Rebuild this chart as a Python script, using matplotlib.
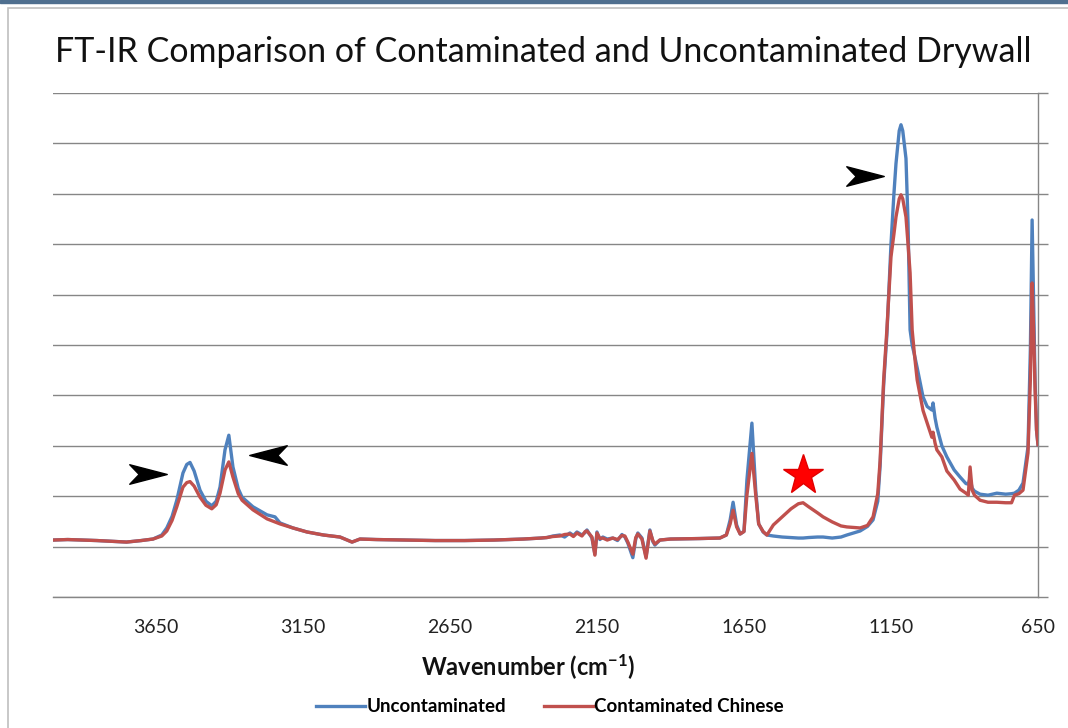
import matplotlib.pyplot as plt
from matplotlib.path import Path
from matplotlib.patches import Rectangle

# FT-IR spectra (wavenumber in cm-1, relative absorbance)
wavenumber = [4000, 3950, 3900, 3850, 3750, 3700, 3660, 3630, 3613, 3595,
              3579, 3558, 3545, 3534, 3520, 3500, 3480, 3460, 3445, 3432,
              3415, 3402, 3388, 3370, 3357, 3320, 3272, 3245, 3228, 3184,
              3136, 3080, 3024, 2983, 2956, 2900, 2800, 2700, 2600, 2500,
              2400, 2340, 2320, 2300, 2276, 2260, 2242, 2230, 2218, 2201,
              2190, 2184, 2167, 2157, 2150, 2140, 2130, 2115, 2096, 2080,
              2065, 2055, 2045, 2028, 2018, 2011, 1997, 1983, 1970, 1960,
              1953, 1936, 1900, 1800, 1732, 1710, 1697, 1687, 1675, 1663,
              1650, 1640, 1623, 1610, 1600, 1585, 1572, 1550, 1520, 1490,
              1465, 1449, 1430, 1400, 1381, 1350, 1320, 1300, 1255, 1230,
              1211, 1195, 1187, 1175, 1164, 1150, 1140, 1133, 1122, 1116,
              1110, 1099, 1092, 1085, 1078, 1070, 1061, 1041, 1027, 1011,
              1007, 1000, 994, 977, 960, 935, 915, 895, 887, 881,
              874, 866, 847, 820, 790, 760, 740, 730, 715, 701,
              684, 676, 670, 665, 660, 655, 650]
uncontaminated = [0.113, 0.114, 0.113, 0.112, 0.109, 0.112, 0.115, 0.123, 0.137, 0.160,
                  0.192, 0.246, 0.263, 0.267, 0.250, 0.212, 0.190, 0.181, 0.190, 0.218,
                  0.292, 0.321, 0.258, 0.215, 0.198, 0.179, 0.163, 0.159, 0.147, 0.137,
                  0.129, 0.123, 0.119, 0.109, 0.115, 0.114, 0.113, 0.112, 0.112, 0.113,
                  0.115, 0.117, 0.118, 0.121, 0.123, 0.119, 0.127, 0.122, 0.129, 0.123,
                  0.128, 0.133, 0.117, 0.085, 0.129, 0.114, 0.119, 0.115, 0.117, 0.112,
                  0.124, 0.119, 0.107, 0.078, 0.115, 0.127, 0.117, 0.080, 0.133, 0.110,
                  0.103, 0.113, 0.115, 0.116, 0.117, 0.123, 0.153, 0.188, 0.143, 0.125,
                  0.130, 0.232, 0.345, 0.212, 0.145, 0.129, 0.123, 0.121, 0.119, 0.118,
                  0.117, 0.117, 0.118, 0.119, 0.119, 0.117, 0.119, 0.123, 0.131, 0.140,
                  0.153, 0.190, 0.260, 0.420, 0.520, 0.700, 0.800, 0.860, 0.925, 0.937,
                  0.925, 0.870, 0.742, 0.530, 0.500, 0.480, 0.455, 0.397, 0.378, 0.371,
                  0.385, 0.355, 0.337, 0.300, 0.278, 0.252, 0.238, 0.225, 0.224, 0.236,
                  0.216, 0.210, 0.204, 0.202, 0.206, 0.204, 0.205, 0.206, 0.212, 0.226,
                  0.298, 0.490, 0.748, 0.589, 0.431, 0.331, 0.302]
contaminated = [0.113, 0.114, 0.113, 0.112, 0.109, 0.112, 0.115, 0.121, 0.131, 0.152,
                0.179, 0.218, 0.227, 0.229, 0.220, 0.198, 0.182, 0.175, 0.183, 0.206,
                0.252, 0.268, 0.238, 0.205, 0.192, 0.173, 0.155, 0.149, 0.145, 0.137,
                0.129, 0.123, 0.119, 0.109, 0.115, 0.114, 0.113, 0.112, 0.112, 0.113,
                0.115, 0.117, 0.118, 0.120, 0.121, 0.124, 0.125, 0.120, 0.127, 0.121,
                0.130, 0.131, 0.119, 0.083, 0.127, 0.116, 0.117, 0.113, 0.117, 0.114,
                0.122, 0.121, 0.109, 0.085, 0.118, 0.125, 0.115, 0.077, 0.131, 0.112,
                0.105, 0.113, 0.115, 0.116, 0.117, 0.123, 0.145, 0.172, 0.139, 0.125,
                0.130, 0.202, 0.285, 0.202, 0.145, 0.130, 0.123, 0.143, 0.159, 0.175,
                0.185, 0.187, 0.179, 0.167, 0.159, 0.149, 0.141, 0.139, 0.137, 0.142,
                0.159, 0.205, 0.270, 0.430, 0.530, 0.675, 0.720, 0.754, 0.790, 0.798,
                0.790, 0.754, 0.700, 0.643, 0.530, 0.480, 0.431, 0.370, 0.345, 0.317,
                0.327, 0.305, 0.292, 0.278, 0.250, 0.232, 0.214, 0.206, 0.202, 0.258,
                0.212, 0.202, 0.192, 0.188, 0.188, 0.187, 0.187, 0.202, 0.205, 0.212,
                0.286, 0.431, 0.623, 0.530, 0.411, 0.331, 0.302]

x_ticks = [3650, 3150, 2650, 2150, 1650, 1150, 650]
y_ticks = [0.1 * i for i in range(11)]

# annotation marks drawn on the original chart
star_pos = (1449, 0.242)
arrows_right = [(3677, 0.244), (1238, 0.835)]
arrows_left = [(3269, 0.282)]

BLUE = '#4F81BD'
RED = '#C0504D'
GRID = '#868686'

plt.rcParams['font.family'] = ['Lato', 'DejaVu Sans']
plt.rcParams['mathtext.fontset'] = 'custom'
plt.rcParams['mathtext.rm'] = 'Lato'
plt.rcParams['mathtext.bf'] = 'Lato:bold'

W, H = 1068, 728
fig = plt.figure(figsize=(W / 100, H / 100), dpi=100)

# chart frame like the spreadsheet export
fig.patches.append(Rectangle((0, 1 - 3 / H), 1, 3 / H, transform=fig.transFigure,
                             color='#4F6F8F', zorder=0))
fig.patches.append(Rectangle((8 / W, -0.05), 1.2, 1 - 8 / H + 0.05, transform=fig.transFigure,
                             facecolor='none', edgecolor='#BFBFBF', lw=1.2, zorder=0))

ax = fig.add_axes([53 / W, 1 - 597 / H, (1038 - 53) / W, (597 - 93) / H])
ax.plot(wavenumber, uncontaminated, color=BLUE, lw=2.4, label='Uncontaminated', zorder=3,
        solid_joinstyle='round')
ax.plot(wavenumber, contaminated, color=RED, lw=2.4, label='Contaminated Chinese', zorder=4,
        solid_joinstyle='round')

ax.set_xlim(4000, 650)
ax.set_ylim(0, 1.0)
ax.set_xticks(x_ticks)
ax.set_xticklabels([str(t) for t in x_ticks])
ax.set_yticks(y_ticks)
ax.yaxis.tick_right()
ax.tick_params(axis='y', labelright=False, length=7, color=GRID, width=1.0, direction='out')
ax.tick_params(axis='x', length=0, pad=16, labelsize=14, labelcolor='#222222')
ax.grid(axis='y', color=GRID, lw=1.0)
ax.set_axisbelow(True)
for side in ['left', 'top']:
    ax.spines[side].set_visible(False)
for side in ['right', 'bottom']:
    ax.spines[side].set_color(GRID)
    ax.spines[side].set_linewidth(1.0)

# star and arrowheads
ax.plot(*star_pos, marker='*', ms=30, color='#FF0000', mec='#E00000', zorder=5)
dart = Path([(1, 0), (-1, 0.52), (-0.5, 0), (-1, -0.52), (1, 0)],
            [Path.MOVETO, Path.LINETO, Path.LINETO, Path.LINETO, Path.CLOSEPOLY])
dart_left = Path([(-1, 0), (1, 0.52), (0.5, 0), (1, -0.52), (-1, 0)],
                 [Path.MOVETO, Path.LINETO, Path.LINETO, Path.LINETO, Path.CLOSEPOLY])
for x, y in arrows_right:
    ax.plot(x, y, marker=dart, ms=27, color='black', zorder=5)
for x, y in arrows_left:
    ax.plot(x, y, marker=dart_left, ms=27, color='black', zorder=5)

fig.text(543 / W, 1 - 62 / H, 'FT-IR Comparison of Contaminated and Uncontaminated Drywall',
         ha='center', va='baseline', fontsize=24.5, color='#111111')
fig.text(528 / W, 1 - 676 / H, r'Wavenumber (cm$\mathbf{^{-1}}$)', ha='center', va='baseline',
         fontsize=17, fontweight='bold', color='#111111')
fig.legend(loc='center', bbox_to_anchor=(550 / W, 1 - 707 / H), ncol=2, frameon=False,
           prop={'weight': 'bold', 'size': 13.5}, handlelength=2.6, handletextpad=0.1,
           columnspacing=2.0)

fig.savefig('out.png', dpi=100)
